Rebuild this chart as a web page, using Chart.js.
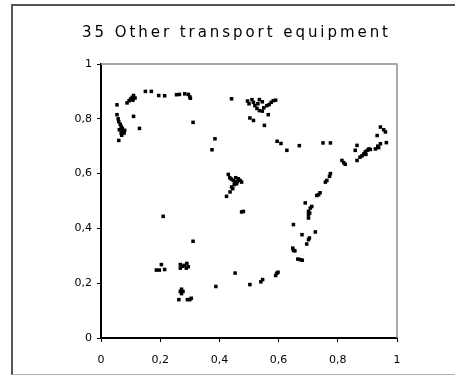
<!DOCTYPE html>
<html>
<head>
<meta charset="utf-8">
<script src="https://cdn.jsdelivr.net/npm/chart.js@4/dist/chart.umd.min.js"></script>
<style>
  html, body { margin: 0; padding: 0; background: #fff; }
  #wrap { width: 460px; height: 376px; position: relative; }
  canvas { display: block; }
</style>
</head>
<body>
<div id="wrap"><canvas id="chart" width="460" height="376"></canvas></div>
<script>
// Industry panel: each point is one observation (x, y) on the unit square
const chartTitle = '35 Other transport equipment';
const tickValues = [0, 0.2, 0.4, 0.6, 0.8, 1];
const tickLabels = ['0', '0,2', '0,4', '0,6', '0,8', '1'];

const xValues = [
  // upper-left arc
  0.054, 0.054, 0.060, 0.068, 0.062, 0.074, 0.068, 0.078, 0.060, 0.065, 0.072, 0.070, 0.058, 0.080,
  0.088, 0.095, 0.100, 0.105, 0.110, 0.115, 0.108, 0.110, 0.130,
  0.150, 0.170, 0.195, 0.215, 0.255, 0.265, 0.283, 0.295, 0.300, 0.302, 0.311,
  // upper-middle cluster
  0.441, 0.495, 0.500, 0.510, 0.515, 0.520, 0.530, 0.527, 0.535, 0.545, 0.550, 0.560, 0.568,
  0.575, 0.582, 0.590, 0.565, 0.545, 0.535, 0.503, 0.515, 0.552,
  0.385, 0.375, 0.595, 0.608, 0.628, 0.670, 0.750, 0.775,
  // central cluster
  0.430, 0.435, 0.440, 0.447, 0.455, 0.464, 0.470, 0.475, 0.458, 0.450, 0.441, 0.445, 0.436,
  0.424, 0.460, 0.452, 0.481, 0.475,
  // lower-left
  0.210, 0.311, 0.204, 0.187, 0.197, 0.215, 0.268, 0.268, 0.275, 0.282, 0.290, 0.295, 0.288,
  0.272, 0.268, 0.277, 0.272, 0.263, 0.292, 0.300, 0.305,
  0.388, 0.453, 0.503, 0.540, 0.546, 0.590, 0.594, 0.598,
  // rising right arm
  0.648, 0.650, 0.655, 0.665, 0.673, 0.680, 0.650, 0.679, 0.724, 0.701, 0.695, 0.704,
  0.690, 0.707, 0.701, 0.701, 0.701, 0.712, 0.705, 0.735, 0.729, 0.740,
  0.758, 0.763, 0.775, 0.772, 0.814, 0.825, 0.820, 0.859, 0.865, 0.865, 0.875,
  0.882, 0.888, 0.893, 0.900, 0.905, 0.910, 0.895, 0.927, 0.935, 0.944, 0.938,
  0.933, 0.944, 0.961, 0.964, 0.955
];

const yValues = [
  0.851, 0.815, 0.790, 0.772, 0.760, 0.754, 0.748, 0.748, 0.721, 0.780, 0.765, 0.740, 0.800, 0.758,
  0.858, 0.866, 0.872, 0.878, 0.885, 0.876, 0.868, 0.809, 0.765,
  0.900, 0.900, 0.885, 0.884, 0.888, 0.889, 0.891, 0.889, 0.880, 0.875, 0.787,
  0.873, 0.865, 0.855, 0.870, 0.860, 0.848, 0.855, 0.838, 0.830, 0.828, 0.840, 0.848, 0.852,
  0.860, 0.866, 0.868, 0.815, 0.862, 0.870, 0.803, 0.794, 0.776,
  0.727, 0.687, 0.718, 0.710, 0.685, 0.702, 0.712, 0.712,
  0.597, 0.585, 0.580, 0.575, 0.585, 0.581, 0.575, 0.569, 0.563, 0.560, 0.551, 0.545, 0.533,
  0.517, 0.570, 0.570, 0.462, 0.460,
  0.444, 0.353, 0.268, 0.248, 0.248, 0.250, 0.255, 0.268, 0.262, 0.265, 0.272, 0.260, 0.255,
  0.178, 0.170, 0.170, 0.162, 0.140, 0.140, 0.140, 0.145,
  0.188, 0.237, 0.195, 0.205, 0.213, 0.228, 0.236, 0.240,
  0.328, 0.320, 0.318, 0.288, 0.286, 0.284, 0.414, 0.377, 0.387, 0.359, 0.343, 0.365,
  0.493, 0.474, 0.462, 0.450, 0.438, 0.480, 0.456, 0.523, 0.520, 0.530,
  0.569, 0.575, 0.600, 0.590, 0.648, 0.634, 0.640, 0.685, 0.703, 0.648, 0.660,
  0.665, 0.672, 0.680, 0.685, 0.690, 0.688, 0.670, 0.690, 0.700, 0.709, 0.695,
  0.739, 0.770, 0.752, 0.713, 0.760
];

const points = xValues.map((x, i) => ({ x: x, y: yValues[i] }));

function tickText(value) {
  const idx = tickValues.findIndex(v => Math.abs(v - value) < 1e-9);
  return idx >= 0 ? tickLabels[idx] : '';
}

const tickFont = { family: '"DejaVu Sans", sans-serif', size: 11 };

// Outer frame of the panel and the light box around the plotting area
const framePlugin = {
  id: 'panelFrame',
  beforeDraw(chart) {
    const ctx = chart.ctx;
    ctx.save();
    ctx.fillStyle = '#ffffff';
    ctx.fillRect(0, 0, chart.width, chart.height);
    ctx.strokeStyle = '#555555';
    ctx.lineWidth = 2;
    ctx.beginPath();
    ctx.moveTo(455, 5);
    ctx.lineTo(12, 5);
    ctx.lineTo(12, 375);
    ctx.stroke();
    ctx.strokeStyle = '#b0b0b0';
    ctx.lineWidth = 1;
    ctx.beginPath();
    ctx.moveTo(12, 374.5);
    ctx.lineTo(455, 374.5);
    ctx.stroke();
    ctx.restore();
  },
  beforeDatasetsDraw(chart) {
    const a = chart.chartArea;
    const ctx = chart.ctx;
    ctx.save();
    ctx.strokeStyle = '#8c8c8c';
    ctx.lineWidth = 1.5;
    ctx.beginPath();
    ctx.moveTo(a.left, a.top);
    ctx.lineTo(a.right, a.top);
    ctx.lineTo(a.right, a.bottom);
    ctx.stroke();
    ctx.restore();
  }
};

// Heading above the plot, spread to span from x=82 to x=388
const headingPlugin = {
  id: 'heading',
  afterDraw(chart) {
    const ctx = chart.ctx;
    const left = 82, right = 388;
    ctx.save();
    ctx.font = '15px "DejaVu Sans", sans-serif';
    ctx.fillStyle = '#000000';
    ctx.textAlign = 'left';
    ctx.textBaseline = 'alphabetic';
    ctx.letterSpacing = '0px';
    const natural = ctx.measureText(chartTitle).width;
    const gap = (right - left - natural) / (chartTitle.length - 1);
    let x = left;
    for (const ch of chartTitle) {
      ctx.fillText(ch, x, 37);
      x += ctx.measureText(ch).width + gap;
    }
    ctx.restore();
  }
};

new Chart(document.getElementById('chart'), {
  type: 'scatter',
  data: {
    datasets: [{
      data: points,
      pointStyle: 'rect',
      pointRadius: 2.5,
      pointHoverRadius: 2.5,
      pointBackgroundColor: '#000000',
      pointBorderWidth: 0,
      showLine: false
    }]
  },
  options: {
    responsive: false,
    animation: false,
    devicePixelRatio: 1,
    layout: { padding: { top: 64, right: 63, bottom: 6, left: 0 } },
    plugins: {
      legend: { display: false },
      title: { display: false },
      tooltip: { enabled: false }
    },
    scales: {
      x: {
        type: 'linear',
        min: 0,
        max: 1,
        afterBuildTicks(scale) { scale.ticks = tickValues.map(v => ({ value: v })); },
        afterFit(scale) { scale.height = 32; },
        grid: { drawOnChartArea: false, drawTicks: true, tickLength: 4, color: '#000000', lineWidth: 1 },
        border: { display: true, color: '#000000', width: 2 },
        ticks: { callback: tickText, font: tickFont, color: '#000000', padding: 12, maxRotation: 0, autoSkip: false }
      },
      y: {
        type: 'linear',
        min: 0,
        max: 1,
        afterBuildTicks(scale) { scale.ticks = tickValues.map(v => ({ value: v })); },
        afterFit(scale) { scale.width = 101; },
        grid: { drawOnChartArea: false, drawTicks: true, tickLength: 4, color: '#000000', lineWidth: 1 },
        border: { display: true, color: '#000000', width: 2 },
        ticks: { callback: tickText, font: tickFont, color: '#000000', padding: 5, autoSkip: false }
      }
    }
  },
  plugins: [framePlugin, headingPlugin]
});
</script>
</body>
</html>
